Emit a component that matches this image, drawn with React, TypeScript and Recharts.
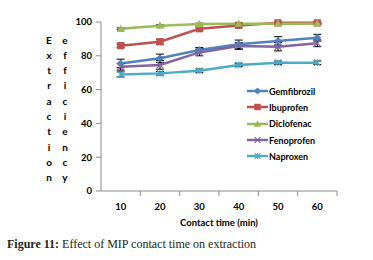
import React from 'react';
import { LineChart, Line, XAxis, YAxis, ErrorBar, Legend } from 'recharts';

const times = [10, 20, 30, 40, 50, 60];
const gemfibrozil = [75.5, 78.5, 83.4, 86.8, 88.8, 90.7];
const ibuprofen = [86, 88.3, 96, 98, 99.5, 99.5];
const diclofenac = [96, 97.8, 98.8, 99, 99, 99];
const fenoprofen = [73.5, 74.6, 82, 85.8, 85.4, 87.4];
const naproxen = [69, 69.6, 71.2, 74.6, 75.9, 75.9];
const gemErr = [2.5, 2.5, 1.5, 2.5, 2.5, 2];
const ibuErr = [1, 1.5, 1, 1, 0.5, 0.5];
const dicErr = [0.5, 0.5, 0.5, 0.5, 0.5, 0.5];
const fenErr = [2, 2.5, 2, 2, 2.5, 2];
const napErr = [1.5, 1, 1, 1, 1, 1];
const yTicks = [0, 20, 40, 60, 80, 100];
const xTicks = [10, 15, 20, 25, 30, 35, 40, 45, 50, 55, 60, 65];
const yLabelCol1 = 'Extraction';
const yLabelCol2 = 'efficiency';

const series = [
  { key: 'gem', name: 'Gemfibrozil', color: '#4F81BD', kind: 'diamond', err: 'gemErr' },
  { key: 'ibu', name: 'Ibuprofen', color: '#C0504D', kind: 'square', err: 'ibuErr' },
  { key: 'dic', name: 'Diclofenac', color: '#9BBB59', kind: 'triangle', err: 'dicErr' },
  { key: 'fen', name: 'Fenoprofen', color: '#8064A2', kind: 'x', err: 'fenErr' },
  { key: 'nap', name: 'Naproxen', color: '#4BACC6', kind: 'star', err: 'napErr' },
];

const data = times.map((t, i) => ({
  t,
  gem: gemfibrozil[i],
  ibu: ibuprofen[i],
  dic: diclofenac[i],
  fen: fenoprofen[i],
  nap: naproxen[i],
  gemErr: gemErr[i],
  ibuErr: ibuErr[i],
  dicErr: dicErr[i],
  fenErr: fenErr[i],
  napErr: napErr[i],
}));

const AXIS = '#8c8c8c';
const FONT = 'Lato, "Liberation Sans", sans-serif';

function Marker({ cx, cy, kind, color, s = 1 }: any) {
  if (cx == null || cy == null) return null;
  if (kind === 'diamond') {
    const r = 4 * s;
    return <polygon points={`${cx},${cy - r} ${cx + r},${cy} ${cx},${cy + r} ${cx - r},${cy}`} fill={color} />;
  }
  if (kind === 'square') {
    const r = 3.6 * s;
    return <rect x={cx - r} y={cy - r} width={2 * r} height={2 * r} fill={color} />;
  }
  if (kind === 'triangle') {
    const r = 4.2 * s;
    return <polygon points={`${cx},${cy - r} ${cx + r},${cy + r * 0.75} ${cx - r},${cy + r * 0.75}`} fill={color} />;
  }
  if (kind === 'x') {
    const r = 3.2 * s;
    return (
      <g stroke={color} strokeWidth={1.2}>
        <line x1={cx - r} y1={cy - r} x2={cx + r} y2={cy + r} />
        <line x1={cx - r} y1={cy + r} x2={cx + r} y2={cy - r} />
      </g>
    );
  }
  const r = 3.2 * s;
  return (
    <g stroke={color} strokeWidth={1.2}>
      <line x1={cx - r} y1={cy - r} x2={cx + r} y2={cy + r} />
      <line x1={cx - r} y1={cy + r} x2={cx + r} y2={cy - r} />
      <line x1={cx} y1={cy - r} x2={cx} y2={cy + r} />
    </g>
  );
}

function XTick(props: any) {
  const { x, y, payload } = props;
  const v = payload.value;
  if (v % 10 === 0) {
    return (
      <text x={x} y={y + 15} textAnchor="middle" dominantBaseline="central" fontFamily={FONT} fontWeight={700} fontSize={9.5} fill="#000">
        {v}
      </text>
    );
  }
  return <line x1={x} y1={y} x2={x} y2={y + 5} stroke={AXIS} strokeWidth={1} />;
}

function LegendContent() {
  return (
    <div style={{ fontFamily: FONT, fontWeight: 700, fontSize: 9, color: '#000' }}>
      {series.map((s) => (
        <div key={s.key} style={{ display: 'flex', alignItems: 'center', height: 16.3 }}>
          <svg width={21} height={10} style={{ display: 'block' }}>
            <line x1={0} y1={5} x2={21} y2={5} stroke={s.color} strokeWidth={2.5} />
            <Marker cx={10.5} cy={5} kind={s.kind} color={s.color} s={0.9} />
          </svg>
          <span style={{ marginLeft: 1 }}>{s.name}</span>
        </div>
      ))}
    </div>
  );
}

const letterStyle: React.CSSProperties = {
  position: 'absolute',
  top: 32.5,
  width: 12,
  textAlign: 'center',
  fontFamily: FONT,
  fontWeight: 700,
  fontSize: 10,
  lineHeight: '15.3px',
  color: '#000',
};

export default function App() {
  return (
    <div style={{ position: 'absolute', left: 0, top: 0, width: 373, height: 260, background: '#fff' }}>
      <LineChart width={373} height={260} data={data} margin={{ top: 22, right: 36, bottom: 39, left: 0 }}>
        <YAxis
          type="number"
          domain={[0, 100]}
          ticks={yTicks}
          width={101}
          tickSize={5}
          tickMargin={4}
          axisLine={{ stroke: AXIS }}
          tickLine={{ stroke: AXIS }}
          tick={{ fontFamily: FONT, fontWeight: 700, fontSize: 9.5, fill: '#000' }}
          interval={0}
        />
        <XAxis
          dataKey="t"
          type="number"
          domain={[5, 65]}
          ticks={xTicks}
          interval={0}
          height={30}
          tickSize={0}
          tickMargin={0}
          tickLine={false}
          axisLine={{ stroke: AXIS }}
          tick={<XTick />}
          label={{ value: 'Contact time (min)', position: 'insideBottom', offset: 0, dy: 5, fontFamily: FONT, fontWeight: 700, fontSize: 9.5, fill: '#000' } as any}
        />
        <Legend
          verticalAlign="middle"
          align="center"
          layout="vertical"
          content={<LegendContent />}
          wrapperStyle={{ position: 'absolute', left: 247, top: 83, width: 110 }}
        />
        {series.map((s) => (
          <Line
            key={s.key}
            dataKey={s.key}
            name={s.name}
            stroke={s.color}
            strokeWidth={2.5}
            isAnimationActive={false}
            dot={(p: any) => <Marker key={`${s.key}-${p.index}`} cx={p.cx} cy={p.cy} kind={s.kind} color={s.color} />}
            activeDot={false}
          >
            <ErrorBar dataKey={s.err} width={4} stroke="#000" strokeWidth={1} direction="y" />
          </Line>
        ))}
      </LineChart>
      <div style={{ ...letterStyle, left: 43 }}>
        {yLabelCol1.split('').map((c, i) => (
          <div key={i}>{c}</div>
        ))}
      </div>
      <div style={{ ...letterStyle, left: 59 }}>
        {yLabelCol2.split('').map((c, i) => (
          <div key={i}>{c}</div>
        ))}
      </div>
      <div style={{ position: 'absolute', left: 7, top: 237, fontFamily: '"Liberation Serif", serif', fontSize: 12, color: '#231f20', whiteSpace: 'nowrap' }}>
        <b>Figure 11:</b> Effect of MIP contact time on extraction
      </div>
    </div>
  );
}
